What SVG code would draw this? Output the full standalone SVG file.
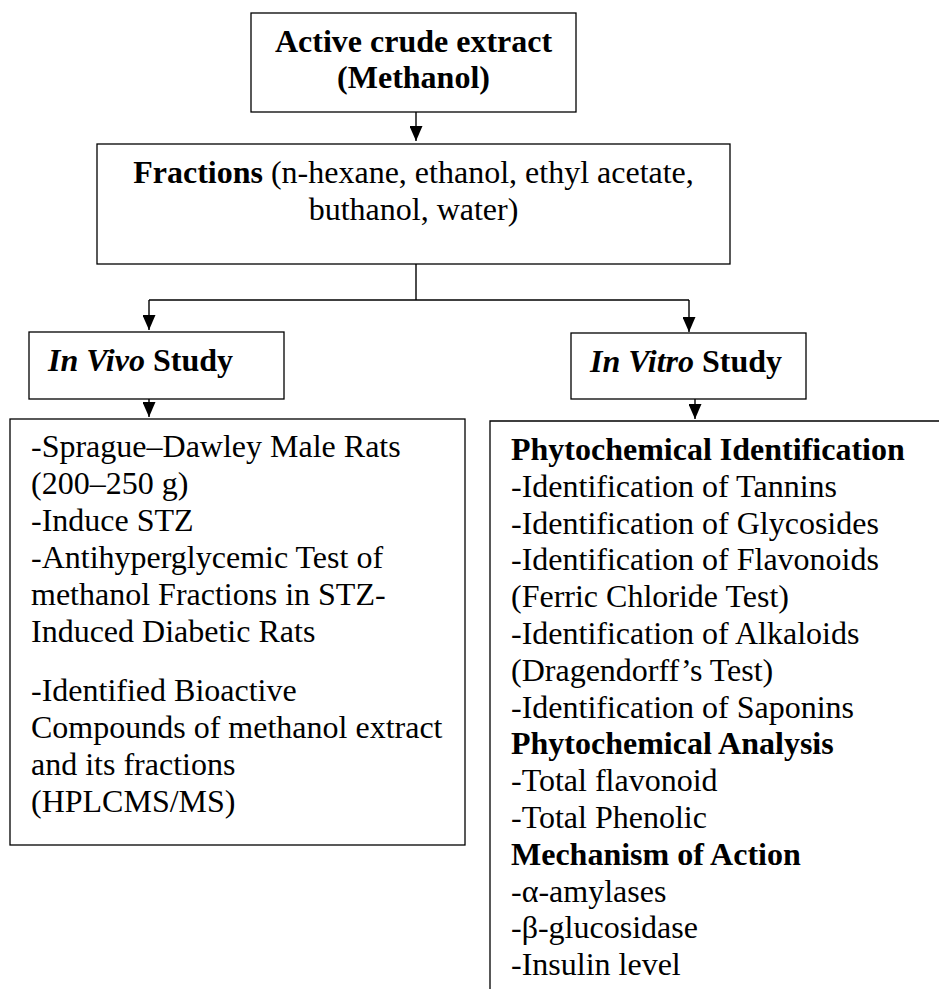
<svg xmlns="http://www.w3.org/2000/svg" width="939" height="989" viewBox="0 0 939 989">
<style>
.box{fill:#fff;stroke:#000;stroke-width:1.3}
.t{font-family:"Liberation Serif","Times New Roman",serif;font-size:32px;fill:#000}
.b{font-weight:bold}
.bi{font-weight:bold;font-style:italic}
.conn{stroke:#000;stroke-width:1.4;fill:none}
.arr{marker-end:url(#ah)}
</style>
<defs>
<marker id="ah" viewBox="0 0 15 13" markerWidth="15" markerHeight="13" refX="15" refY="6.5" orient="auto" markerUnits="userSpaceOnUse">
<path d="M0,0 L15,6.5 L0,13 z" fill="#000"/>
</marker>
</defs>
<rect width="939" height="989" fill="#fff"/>
<g id="connectors">
<path class="conn arr" d="M416,112 V141"/>
<path class="conn" d="M416,264 V300" stroke-width="1"/>
<path class="conn" d="M149,300 H689"/>
<path class="conn arr" d="M149,300 V330"/>
<path class="conn arr" d="M689,300 V332"/>
<path class="conn arr" d="M149,399 V417"/>
<path class="conn arr" d="M695,399 V419"/>
</g>
<g id="crude">
<rect class="box" x="251" y="13" width="325" height="99"/>
<text class="t b" x="413.5" y="52" text-anchor="middle">Active crude extract</text>
<text class="t b" x="413.5" y="88" text-anchor="middle">(Methanol)</text>
</g>
<g id="fractions">
<rect class="box" x="97" y="144" width="633" height="120"/>
<text class="t" x="413.5" y="183" text-anchor="middle"><tspan class="b">Fractions</tspan> (n-hexane, ethanol, ethyl acetate,</text>
<text class="t" x="413.5" y="220" text-anchor="middle">buthanol, water)</text>
</g>
<g id="invivo">
<rect class="box" x="29" y="332" width="255" height="67"/>
<text class="t" x="48" y="371"><tspan class="bi">In Vivo</tspan><tspan class="b"> Study</tspan></text>
</g>
<g id="invitro">
<rect class="box" x="571" y="333" width="235" height="66"/>
<text class="t" x="590" y="372"><tspan class="bi">In Vitro</tspan><tspan class="b"> Study</tspan></text>
</g>
<g id="invivo-details">
<rect class="box" x="10" y="419" width="455" height="426"/>
<text class="t" x="31" y="457">-Sprague–Dawley Male Rats</text>
<text class="t" x="31" y="494">(200–250 g)</text>
<text class="t" x="31" y="531">-Induce STZ</text>
<text class="t" x="31" y="568">-Antihyperglycemic Test of</text>
<text class="t" x="31" y="605">methanol Fractions in STZ-</text>
<text class="t" x="31" y="642">Induced Diabetic Rats</text>
<text class="t" x="31" y="701">-Identified Bioactive</text>
<text class="t" x="31" y="738">Compounds of methanol extract</text>
<text class="t" x="31" y="775">and its fractions</text>
<text class="t" x="31" y="812">(HPLCMS/MS)</text>
</g>
<g id="invitro-details">
<path class="box" d="M939,421 H490 V989" fill="none"/>
<text class="t b" x="511" y="460">Phytochemical Identification</text>
<text class="t" x="511" y="497">-Identification of Tannins</text>
<text class="t" x="511" y="534">-Identification of Glycosides</text>
<text class="t" x="511" y="570">-Identification of Flavonoids</text>
<text class="t" x="511" y="607">(Ferric Chloride Test)</text>
<text class="t" x="511" y="644">-Identification of Alkaloids</text>
<text class="t" x="511" y="681">(Dragendorff’s Test)</text>
<text class="t" x="511" y="718">-Identification of Saponins</text>
<text class="t b" x="511" y="754">Phytochemical Analysis</text>
<text class="t" x="511" y="791">-Total flavonoid</text>
<text class="t" x="511" y="828">-Total Phenolic</text>
<text class="t b" x="511" y="865">Mechanism of Action</text>
<text class="t" x="511" y="902">-α-amylases</text>
<text class="t" x="511" y="938">-β-glucosidase</text>
<text class="t" x="511" y="975">-Insulin level</text>
</g>
</svg>
